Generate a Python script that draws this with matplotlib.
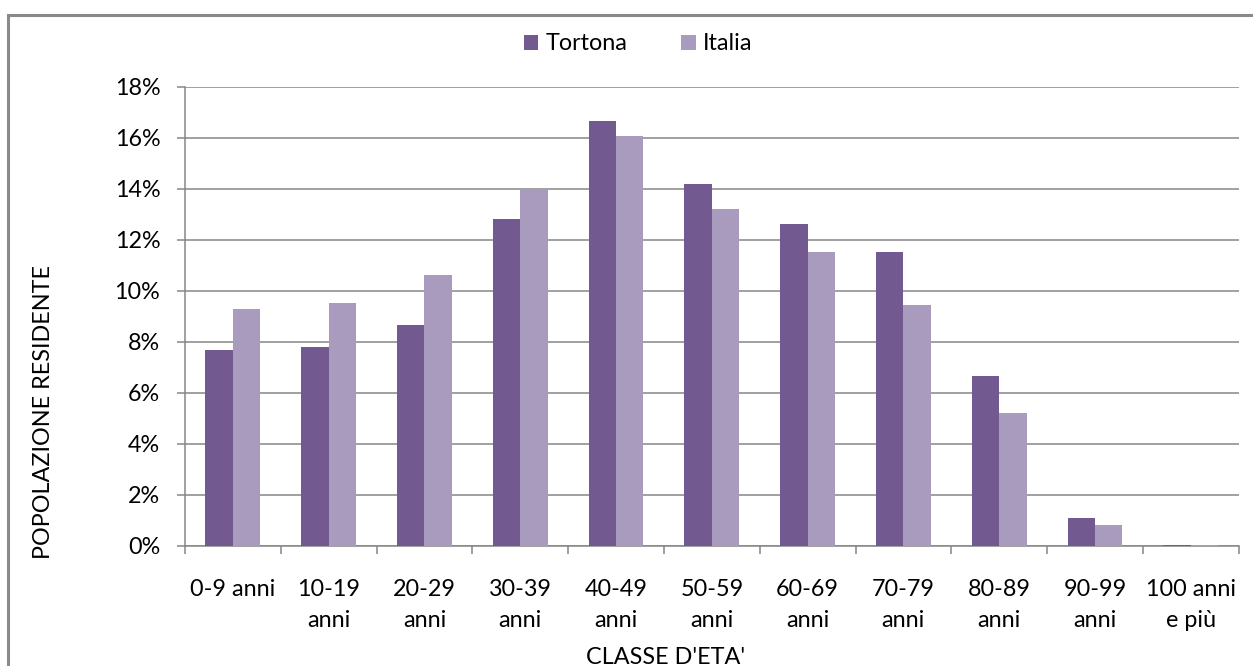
import matplotlib
matplotlib.use("Agg")
import matplotlib.pyplot as plt
from matplotlib.patches import Rectangle, Patch
from matplotlib.ticker import FixedLocator, FuncFormatter
import numpy as np

plt.rcParams['font.family'] = ['Lato', 'DejaVu Sans']

# Age classes and share of resident population (%)
categories = ["0-9 anni", "10-19\nanni", "20-29\nanni", "30-39\nanni", "40-49\nanni",
              "50-59\nanni", "60-69\nanni", "70-79\nanni", "80-89\nanni", "90-99\nanni",
              "100 anni\ne più"]
tortona = [7.69, 7.79, 8.67, 12.83, 16.66, 14.20, 12.62, 11.53, 6.67, 1.11, 0.04]
italia = [9.28, 9.51, 10.62, 13.99, 16.06, 13.22, 11.51, 9.43, 5.22, 0.82, 0.02]
series_names = ["Tortona", "Italia"]
series_colors = ["#72598F", "#A99BBD"]

W, H, DPI = 1253, 666, 100
fig = plt.figure(figsize=(W / DPI, H / DPI), dpi=DPI)
fig.patch.set_facecolor("white")

FS = 16.8
GRID = "#868686"

ax = fig.add_axes([185 / W, 1 - 546 / H, (1238.7 - 185) / W, (546 - 86.7) / H])
x = np.arange(len(categories))
bw = 0.286
ax.bar(x - bw / 2, tortona, width=bw, color=series_colors[0], zorder=3)
ax.bar(x + bw / 2, italia, width=bw, color=series_colors[1], zorder=3)

ax.set_xlim(-0.5, len(categories) - 0.5)
ax.set_ylim(0, 18)
ax.yaxis.set_major_locator(FixedLocator(np.arange(0, 19, 2)))
ax.yaxis.set_major_formatter(FuncFormatter(lambda v, p: f"{v:.0f}%"))
ax.grid(axis="y", color=GRID, linewidth=1.1, zorder=0)
ax.set_axisbelow(True)

for s in ["top", "right"]:
    ax.spines[s].set_visible(False)
for s in ["left", "bottom"]:
    ax.spines[s].set_color(GRID)
    ax.spines[s].set_linewidth(1.1)

# category labels at centres, tick marks at category boundaries
ax.set_xticks(x)
ax.set_xticklabels(categories, fontsize=FS, linespacing=1.6)
ax.set_xticks(np.arange(-0.5, len(categories)), minor=True)
ax.tick_params(axis="x", which="major", length=0, pad=23.5)
ax.tick_params(axis="x", which="minor", length=5.5, color=GRID, width=1.1, direction="out")
ax.tick_params(axis="y", length=5.8, color=GRID, width=1.1, direction="out", pad=12,
               labelsize=FS)

fig.text(666 / W, 1 - 664 / H, "CLASSE D'ETA'", fontsize=FS, ha="center", va="baseline")
fig.text(44 / W, 1 - 412 / H, "POPOLAZIONE RESIDENTE", fontsize=FS, ha="center",
         va="center", rotation=90)

handles = [Patch(facecolor=c, edgecolor="none") for c in series_colors]
fig.legend(handles, series_names, loc="center", bbox_to_anchor=(638 / W, 1 - 44 / H),
           ncol=2, frameon=False, fontsize=FS, handlelength=0.64, handleheight=0.64,
           handletextpad=0.3, columnspacing=2.3, borderpad=0)

# chart frame
fig.add_artist(Rectangle((8.3 / W, -0.1), 1.2, (1 - 15.5 / H) + 0.1,
                         transform=fig.transFigure, fill=False,
                         edgecolor="#8a8a8a", linewidth=2.2))

fig.savefig("out.png", dpi=DPI)
